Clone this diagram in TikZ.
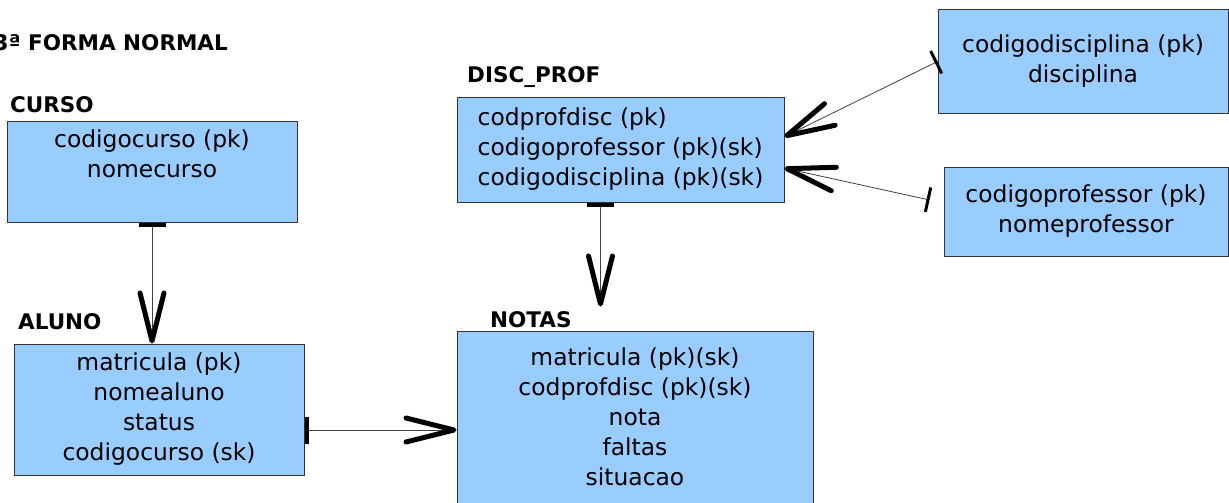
\documentclass[tikz,border=0pt]{standalone}
\usepackage{fontspec}
\setmainfont{DejaVu Sans}
\usetikzlibrary{arrows.meta,calc}
\definecolor{boxblue}{HTML}{99CCFF}
\definecolor{boxline}{HTML}{333333}
\tikzset{
  one/.tip={Bar[width=27pt,line width=4pt,color=black]},
  onethin/.tip={Bar[width=25pt,line width=3pt,color=black]},
  many/.tip={Straight Barb[length=48pt,width=24pt,line width=5pt,round,color=black]},
}
\begin{document}
\begin{tikzpicture}[x=1pt,y=-1pt,
  entity/.style={draw=boxline,line width=1pt,fill=boxblue,inner sep=0pt,
    align=center,font=\fontsize{23.4pt}{30pt}\selectfont,text=black},
  title/.style={font=\fontsize{21.5pt}{26pt}\selectfont\bfseries,inner sep=0pt,text=black},
  rel/.style={draw=black!75,line width=0.8pt},
]
\useasboundingbox (0,0) rectangle (1229,503);

% entities
\node[entity,minimum width=290pt,minimum height=101pt] (cur) at (152,171.5)
  {\strut codigocurso (pk)\\\strut nomecurso\\\strut};
\node[entity,minimum width=290pt,minimum height=131pt] (alu) at (159,409.5)
  {\strut matricula (pk)\\\strut nomealuno\\\strut status\\\strut codigocurso (sk)};
\node[entity,minimum width=356pt,minimum height=177pt] (nt) at (635,419.5)
  {\strut matricula (pk)(sk)\\\strut codprofdisc (pk)(sk)\\\strut nota\\\strut faltas\\\strut situacao};
\node[entity,align=left,minimum width=327pt,minimum height=105pt] (dp) at (620.5,149.5)
  {\strut codprofdisc (pk)\\\strut codigoprofessor (pk)(sk)\\\strut codigodisciplina (pk)(sk)};
\node[entity,minimum width=290pt,minimum height=103pt] (disc) at (1083,61.5)
  {\strut codigodisciplina (pk)\\\strut disciplina};
\node[entity,minimum width=284pt,minimum height=89pt] (prof) at (1086,211.5)
  {\strut codigoprofessor (pk)\\\strut nomeprofessor};

% titles
\node[title,anchor=base east] (t0) at (228,51) {3ª FORMA NORMAL};
\node[title,anchor=base west] (tcur) at (10,112) {CURSO};
\node[title,anchor=base west] (talu) at (18,329) {ALUNO};
\node[title,anchor=base west] (tnt) at (490,327) {NOTAS};
\node[title,anchor=base west] (tdp) at (467,82) {DISC\_PROF};

% connectors
\draw[rel,one-many] (cur.south) -- (cur.south |- alu.north);
\coordinate (a1) at ($(alu.east)+(0,20.5)$);
\draw[rel,one-many] (a1) -- (nt.west |- a1);
\coordinate (d1) at ($(dp.south)+(-20,0)$);
\draw[rel,shorten >=24pt,one-many] (d1) -- (d1 |- nt.north);
\draw[rel,onethin-many] (disc.west) -- ($(dp.north east)!0.38!(dp.south east)$);
\coordinate (p1) at ($(prof.west)+(-14,-11.5)$);
\draw[rel,onethin-many] (p1) -- ($(dp.north east)!0.676!(dp.south east)$);
\end{tikzpicture}
\end{document}
